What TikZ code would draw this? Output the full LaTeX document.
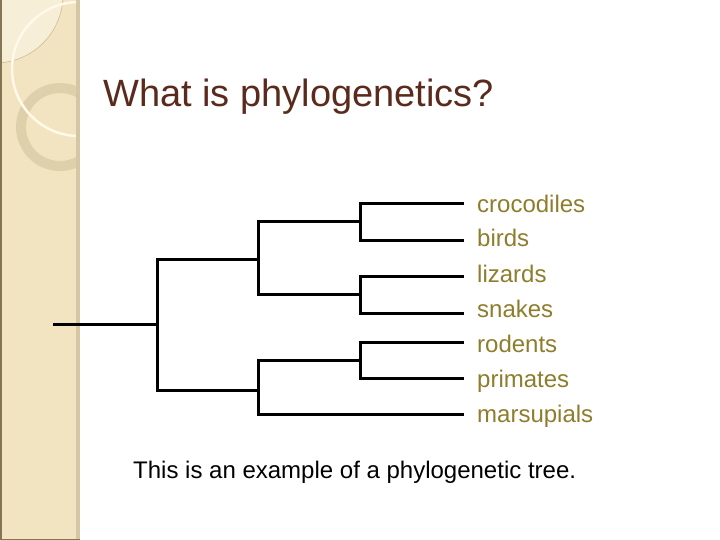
\documentclass[tikz,border=0pt]{standalone}
\usepackage{fontspec}
\setmainfont{Liberation Sans}
\definecolor{stripfill}{HTML}{F2E4C0}
\definecolor{stripshade}{HTML}{D6C7A4}
\definecolor{stripedge}{HTML}{857555}
\definecolor{lightdisc}{HTML}{F7EED8}
\definecolor{discline}{HTML}{CDBB95}
\definecolor{ringcol}{HTML}{DACBA6}
\definecolor{whitearc}{HTML}{FFF9EA}
\definecolor{titlecol}{HTML}{5A2B1C}
\definecolor{leafcol}{HTML}{8E7D2C}
\begin{document}
\begin{tikzpicture}[x=1pt,y=-1pt,
  branch/.style={line width=3pt,line cap=rect,black},
  leaflabel/.style={anchor=base west,inner sep=0pt,text=leafcol,font=\fontsize{24}{28}\selectfont},
  titletext/.style={anchor=base west,inner sep=0pt,text=titlecol,font=\fontsize{38}{44}\selectfont},
  captiontext/.style={anchor=base west,inner sep=0pt,text=black,font=\fontsize{24}{28}\selectfont}]
\useasboundingbox (0,0) rectangle (720,540);
\fill[white] (0,0) rectangle (720,540);
% left decorative strip
\fill[stripfill] (0,0) rectangle (77,540);
\begin{scope}
  \clip (0,0) rectangle (77,540);
  \fill[lightdisc] (-5,-5) circle[radius=68];
  \draw[discline,line width=0.6pt] (-5,-5) circle[radius=68];
  \draw[ringcol,line width=10pt,opacity=0.8] (60,127) circle[radius=39];
  \draw[whitearc,line width=2.5pt] (79,69) circle[radius=67];
\end{scope}
\fill[stripshade] (76,0) rectangle (80,540);
\fill[stripedge] (0,0) rectangle (1.5,540);
\fill[stripedge] (0,538.5) rectangle (80,540);
% title
\node[titletext] (title) at (103,107) {What is phylogenetics?};
% tree coordinates
\coordinate (root) at (54,324);
\coordinate (n1) at (157,324);
\coordinate (u) at (258,259);
\coordinate (l) at (258,390);
\coordinate (a) at (360,222);
\coordinate (b) at (360,294);
\coordinate (c) at (360,360);
\coordinate (L1) at (462,204);
\coordinate (L2) at (462,240);
\coordinate (L3) at (462,276);
\coordinate (L4) at (462,313);
\coordinate (L5) at (462,342);
\coordinate (L6) at (462,378);
\coordinate (L7) at (462,414);
% branches
\draw[branch] (root) -- (n1);
\draw[branch] (u) -| (n1) |- (l);
\draw[branch] (a) -| (u) |- (b);
\draw[branch] (L1) -| (a) |- (L2);
\draw[branch] (L3) -| (b) |- (L4);
\draw[branch] (c) -| (l) |- (L7);
\draw[branch] (L5) -| (c) |- (L6);
% leaf labels
\node[leaflabel] (t1) at (477,212) {crocodiles};
\node[leaflabel] (t2) at (477,247) {birds};
\node[leaflabel] (t3) at (477,282) {lizards};
\node[leaflabel] (t4) at (477,317) {snakes};
\node[leaflabel] (t5) at (477,352) {rodents};
\node[leaflabel] (t6) at (477,387) {primates};
\node[leaflabel] (t7) at (477,422) {marsupials};
% caption
\node[captiontext] (cap) at (133,478) {This is an example of a phylogenetic tree.};
\end{tikzpicture}
\end{document}
